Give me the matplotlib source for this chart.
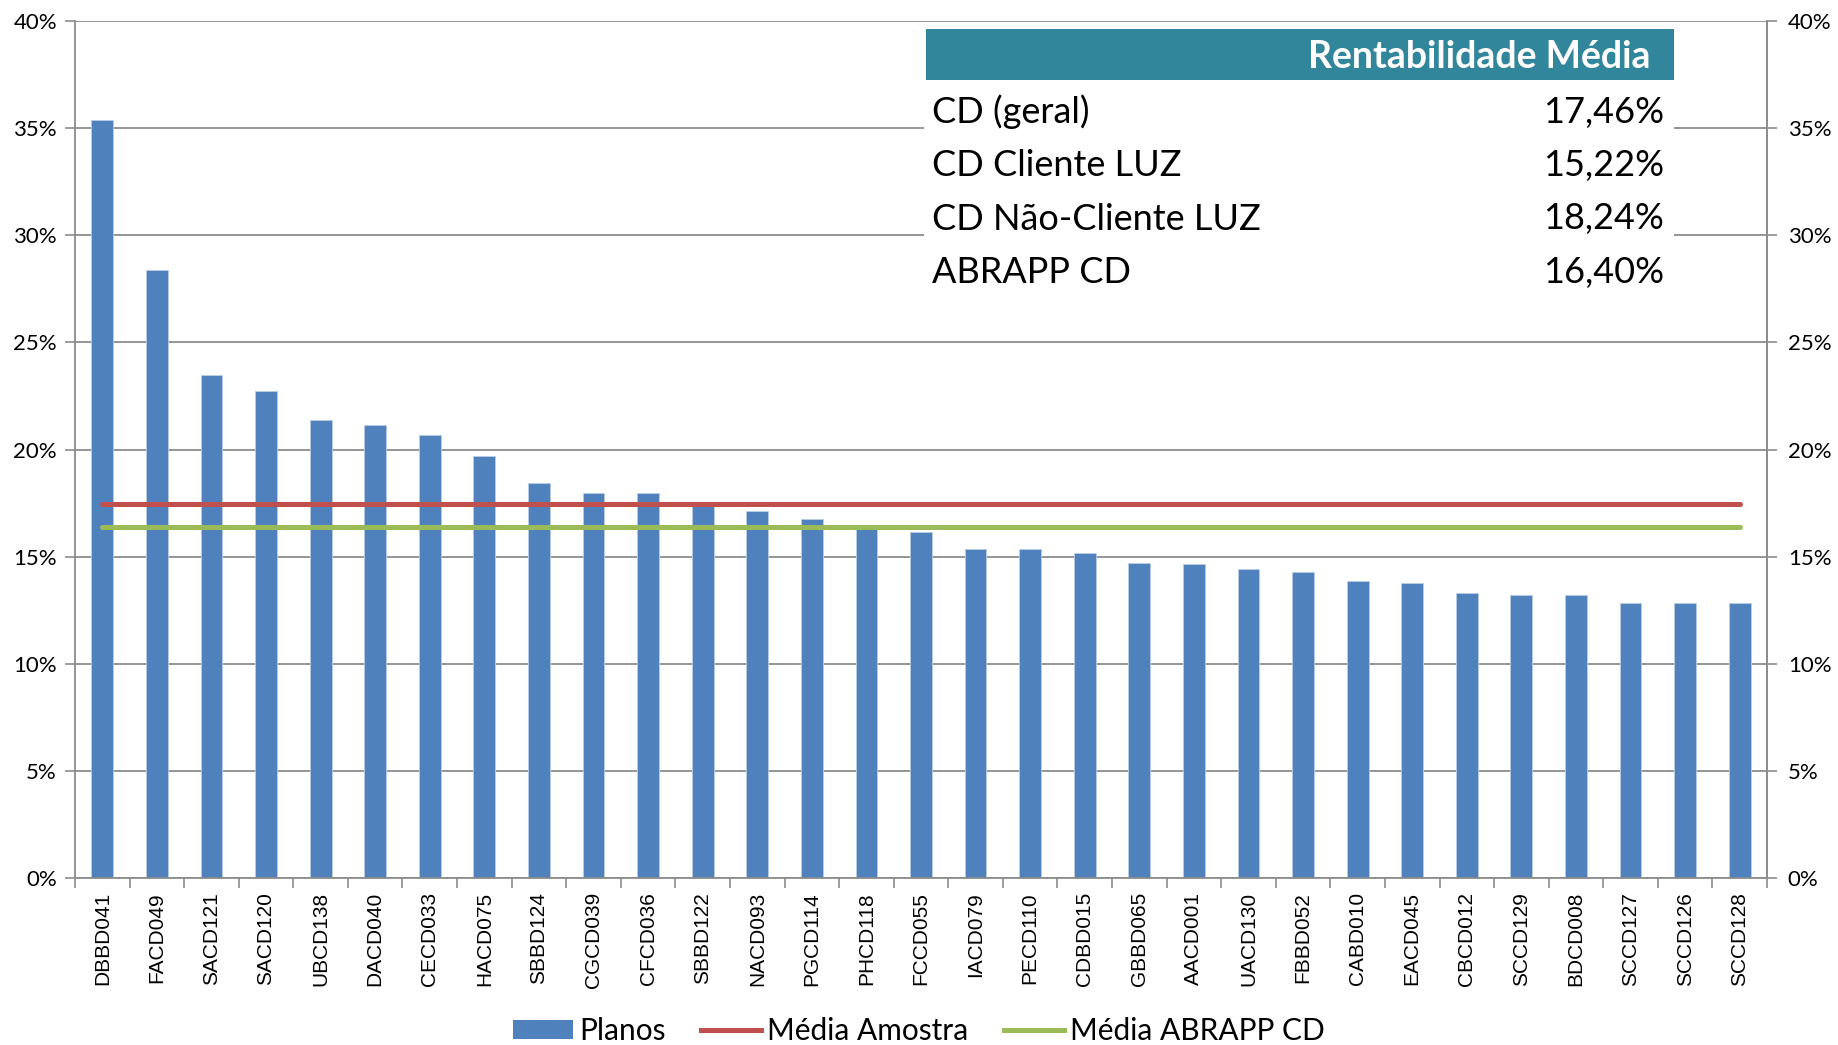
import matplotlib
matplotlib.use("Agg")
import matplotlib.pyplot as plt
from matplotlib.patches import Rectangle
from matplotlib.lines import Line2D
from matplotlib.patches import Patch

# plan codes and returns (%)
planos = ["DBBD041", "FACD049", "SACD121", "SACD120", "UBCD138", "DACD040",
          "CECD033", "HACD075", "SBBD124", "CGCD039", "CFCD036", "SBBD122",
          "NACD093", "PGCD114", "PHCD118", "FCCD055", "IACD079", "PECD110",
          "CDBD015", "GBBD065", "AACD001", "UACD130", "FBBD052", "CABD010",
          "EACD045", "CBCD012", "SCCD129", "BDCD008", "SCCD127", "SCCD126",
          "SCCD128"]
rentab = [35.39, 28.39, 23.50, 22.73, 21.37, 21.16, 20.70, 19.71, 18.45,
          17.98, 17.98, 17.45, 17.12, 16.74, 16.38, 16.15, 15.37, 15.36,
          15.16, 14.72, 14.65, 14.40, 14.30, 13.88, 13.79, 13.30, 13.21,
          13.19, 12.85, 12.83, 12.83]
media_amostra = 17.46
media_abrapp = 16.40

tab_rows = ["CD (geral)", "CD Cliente LUZ", "CD Não-Cliente LUZ", "ABRAPP CD"]
tab_vals = ["17,46%", "15,22%", "18,24%", "16,40%"]

yticks = [0, 5, 10, 15, 20, 25, 30, 35, 40]

W, H = 1838, 1045
BLUE = "#4F81BD"
RED = "#C0504D"
GREEN = "#9BBB59"
GRID = "#8C8C8C"
CAL = ["Lato", "DejaVu Sans"]

fig = plt.figure(figsize=(W / 100, H / 100), dpi=100)
ax = fig.add_axes([75 / W, (H - 878) / H, (1767 - 75) / W, (878 - 21) / H])

n = len(planos)
x = list(range(n))
ax.bar(x, rentab, width=0.4, color=BLUE, edgecolor="#B9CDE5", linewidth=0.6, zorder=2)
ax.plot([0, n - 1], [media_amostra] * 2, color=RED, lw=3.6, solid_capstyle="round", zorder=3)
ax.plot([0, n - 1], [media_abrapp] * 2, color=GREEN, lw=3.6, solid_capstyle="round", zorder=3)

ax.set_xlim(-0.5, n - 0.5)
ax.set_ylim(0, 40)
ax.set_yticks(yticks)
ax.set_yticklabels([f"{v}%" for v in yticks], fontsize=16, family=CAL)
ax.yaxis.grid(True, color=GRID, lw=1.3, zorder=0)
ax.set_axisbelow(True)
ax.set_xticks(x)
ax.set_xticklabels(planos, rotation=90, fontsize=15, family=["Liberation Sans", "DejaVu Sans"])
ax.tick_params(axis="x", length=0, pad=10)
ax.set_xticks([i - 0.5 for i in range(n + 1)], minor=True)
ax.tick_params(axis="x", which="minor", length=7, color=GRID, width=1.2)
ax.tick_params(axis="y", length=7, color=GRID, width=1.2, pad=6)
for s in ["top"]:
    ax.spines[s].set_visible(False)
for s in ["left", "right", "bottom"]:
    ax.spines[s].set_color(GRID)
    ax.spines[s].set_linewidth(1.3)

ax2 = ax.twinx()
ax2.set_ylim(0, 40)
ax2.set_yticks(yticks)
ax2.set_yticklabels([f"{v}%" for v in yticks], fontsize=16, family=CAL)
ax2.tick_params(axis="y", length=7, color=GRID, width=1.2, pad=8)
for s in ["top", "left", "bottom"]:
    ax2.spines[s].set_visible(False)
ax2.spines["right"].set_color(GRID)
ax2.spines["right"].set_linewidth(1.3)


def fx(px):
    return px / W


def fy(py):
    return 1 - py / H


# summary table drawn over the plot
fig.add_artist(Rectangle((fx(924), fy(300)), fx(1674 - 924), (300 - 29) / H,
                         transform=fig.transFigure, facecolor="white", edgecolor="none", zorder=5))
fig.add_artist(Rectangle((fx(926), fy(80)), fx(1674 - 926), (80 - 29) / H,
                         transform=fig.transFigure, facecolor="#31869B", edgecolor="none", zorder=6))
fig.text(fx(1650), fy(57), "Rentabilidade Média", color="white", fontsize=27, fontweight="bold",
         family=CAL, ha="right", va="center", zorder=7)
for i, (r, v) in enumerate(zip(tab_rows, tab_vals)):
    yy = 112 + i * 53.5
    fig.text(fx(932), fy(yy), r, fontsize=26, family=CAL, ha="left", va="center", zorder=7)
    fig.text(fx(1664), fy(yy), v, fontsize=26, family=CAL, ha="right", va="center", zorder=7)

handles = [Patch(facecolor=BLUE, edgecolor="none"),
           Line2D([], [], color=RED, lw=3.6),
           Line2D([], [], color=GREEN, lw=3.6)]
fig.legend(handles, ["Planos", "Média Amostra", "Média ABRAPP CD"], loc="center",
           bbox_to_anchor=(0.5, fy(1031)), ncol=3, frameon=False,
           prop={"family": CAL, "size": 21.5}, handlelength=2.0, handleheight=0.6,
           handletextpad=0.2, columnspacing=1.2)

fig.savefig("out.png", dpi=100)
